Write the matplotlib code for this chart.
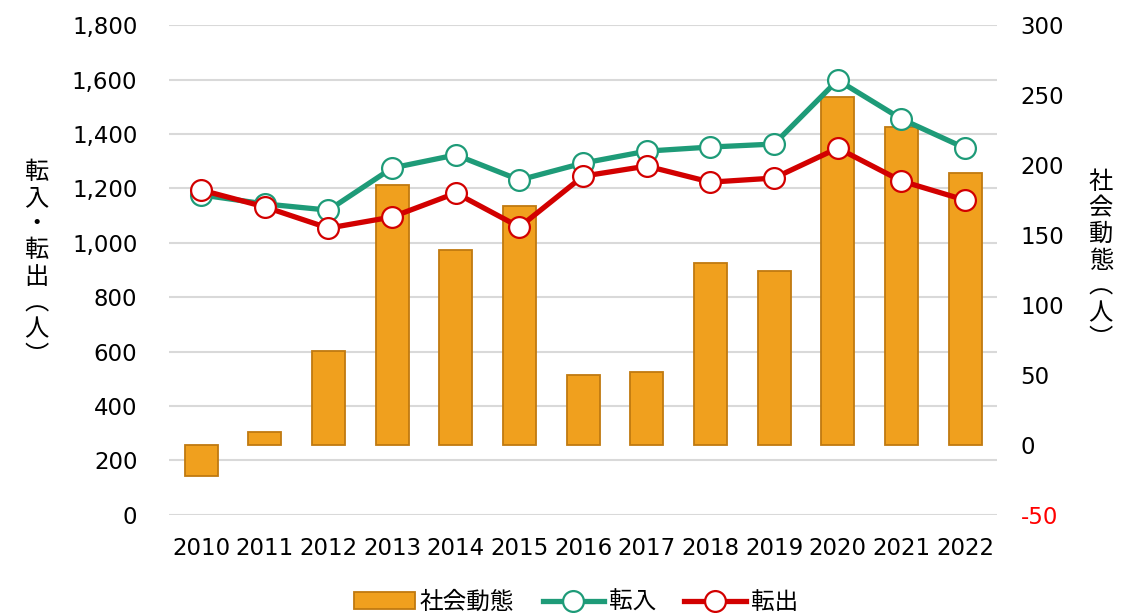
import matplotlib.pyplot as plt
import numpy as np

plt.rcParams['font.family'] = ['DejaVu Sans', 'Noto Sans CJK JP']

years = ['2010', '2011', '2012', '2013', '2014', '2015', '2016',
         '2017', '2018', '2019', '2020', '2021', '2022']
tennyu = [1176, 1143, 1120, 1275, 1323, 1231, 1293, 1337, 1352, 1363, 1598, 1455, 1348]
tenshutsu = [1194, 1132, 1054, 1095, 1183, 1058, 1245, 1282, 1223, 1238, 1348, 1227, 1157]
shakai = [-22, 9, 67, 186, 139, 171, 50, 52, 130, 124, 249, 227, 194]

left_ticks = list(range(0, 1801, 200))
right_ticks = list(range(-50, 301, 50))

x = np.arange(len(years))
green = '#1E9B78'
red = '#D20000'

fig = plt.figure(figsize=(11.29, 6.13), dpi=100)
ax = fig.add_axes([0.150, 0.160, 0.733, 0.799])
ax2 = ax.twinx()
ax3 = ax.twinx()

# grid on bottom axes (left scale)
ax.set_ylim(0, 1800)
ax.set_yticks(left_ticks)
ax.set_yticklabels([f'{v:,}' for v in left_ticks])
ax.grid(axis='y', color='#D9D9D9', linewidth=1.5)
ax.set_xlim(-0.5, len(years) - 0.5)
ax.set_xticks(x)
ax.set_xticklabels(years)
ax.tick_params(axis='both', length=0, labelsize=16.5)
ax.tick_params(axis='y', pad=23)
ax.tick_params(axis='x', pad=16)

# bars (right scale)
ax2.bar(x, shakai, width=0.52, color='#F0A01E', edgecolor='#C07A10', linewidth=1.3, label='社会動態')
ax2.set_ylim(-50, 300)
ax2.set_yticks(right_ticks)
ax2.set_yticklabels([str(v) for v in right_ticks])
ax2.tick_params(axis='y', length=0, labelsize=16.5, pad=17)
for lbl, v in zip(ax2.get_yticklabels(), right_ticks):
    if v < 0:
        lbl.set_color('#FF0000')

# lines (left scale) on top
ax3.set_ylim(0, 1800)
ax3.plot(x, tennyu, color=green, linewidth=3.8, marker='o', markersize=15,
         markerfacecolor='white', markeredgecolor=green, markeredgewidth=1.6, label='転入')
ax3.plot(x, tenshutsu, color=red, linewidth=3.8, marker='o', markersize=15,
         markerfacecolor='white', markeredgecolor=red, markeredgewidth=1.6, label='転出')
ax3.set_yticks([])

for a in (ax, ax2, ax3):
    for s in a.spines.values():
        s.set_visible(False)

fig.text(0.032, 0.570, '\n'.join('転入・転出︵人︶'), ha='center', va='center',
         fontsize=17.5, linespacing=1.12)
fig.text(0.975, 0.575, '\n'.join('社会動態︵人︶'), ha='center', va='center',
         fontsize=17.5, linespacing=1.12)

handles = ax2.get_legend_handles_labels()[0] + ax3.get_legend_handles_labels()[0]
labels = ['社会動態', '転入', '転出']
fig.legend(handles, labels, loc='center', bbox_to_anchor=(0.51, 0.018), ncol=3,
           frameon=False, fontsize=17, handlelength=2.6, handleheight=0.7,
           columnspacing=1.2, handletextpad=0.2)

fig.savefig('out.png', dpi=100)
